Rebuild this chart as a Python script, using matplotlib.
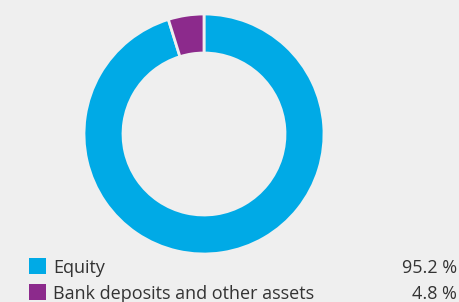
import matplotlib
matplotlib.use("Agg")
import matplotlib.pyplot as plt
from matplotlib.patches import Rectangle

labels = ["Equity", "Bank deposits and other assets"]
values = [95.2, 4.8]
colors = ["#00aae6", "#8c2a8c"]

BG = "#efefef"
W, H = 459, 302
fig = plt.figure(figsize=(W / 100, H / 100), dpi=100, facecolor=BG)

# donut axes: center (204,134) px, outer radius 120 px
cx, cy, r = 204, 134, 120
ax = fig.add_axes([(cx - r) / W, 1 - (cy + r) / H, 2 * r / W, 2 * r / H])
ax.set_facecolor(BG)
ax.pie(values, colors=colors, startangle=90, counterclock=False, radius=1,
       wedgeprops=dict(width=0.325, edgecolor=BG, linewidth=2))
ax.set_xlim(-1.0, 1.0)
ax.set_ylim(-1.0, 1.0)
ax.set_aspect("equal")
ax.axis("off")

font = "Open Sans"
tc = "#333333"
baselines = [272.7, 298.7]
for lab, val, col, b in zip(labels, values, colors, baselines):
    fig.patches.append(Rectangle((29 / W, 1 - (b + 1.5) / H), 17 / W, 16 / H,
                                 transform=fig.transFigure, facecolor=col,
                                 edgecolor="none"))
    fig.text(53 / W, 1 - b / H, lab, family=font, fontsize=13, color=tc,
             va="baseline", ha="left")
    fig.text(457 / W, 1 - b / H, f"{val:.1f} %", family=font, fontsize=13,
             color=tc, va="baseline", ha="right")

fig.savefig("out.png", dpi=100, facecolor=BG)
